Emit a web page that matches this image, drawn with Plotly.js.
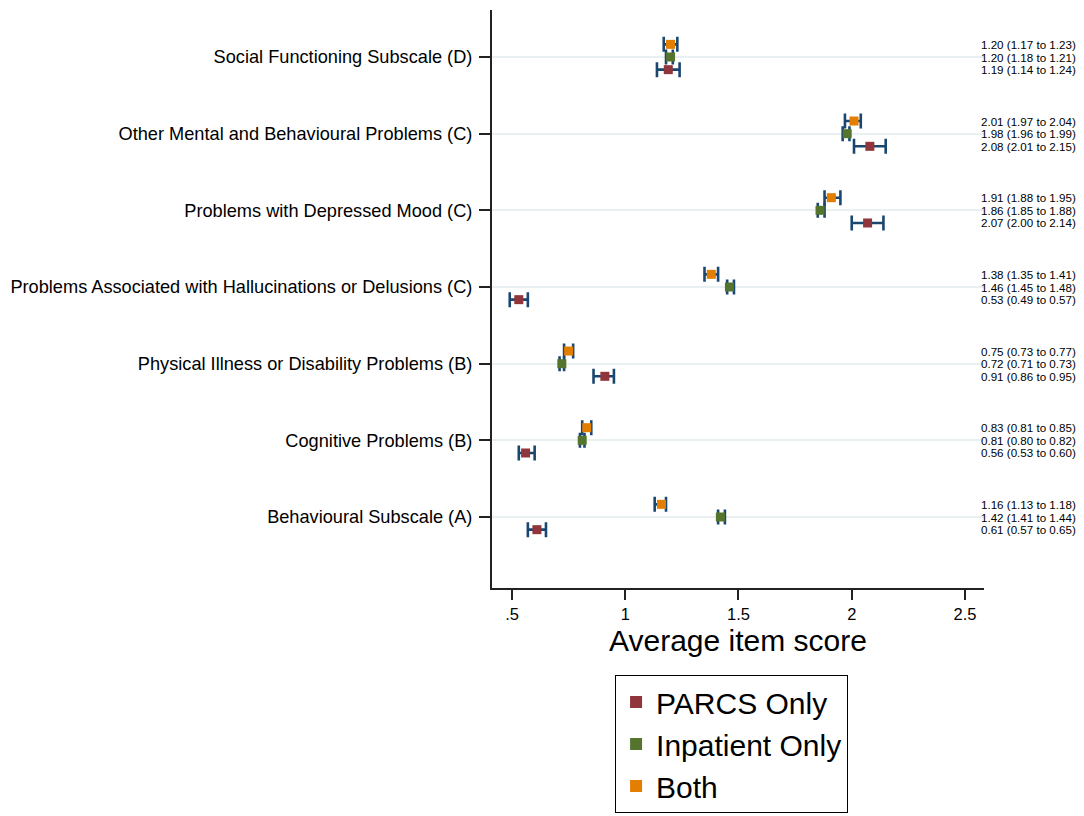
<!DOCTYPE html>
<html>
<head>
<meta charset="utf-8">
<script src="https://cdn.plot.ly/plotly-3.0.1.min.js"></script>
<style>html,body{margin:0;padding:0;background:#fff;}#chart{width:1084px;height:816px;}</style>
</head>
<body>
<div id="chart"></div>
<script>
// Categories, top to bottom
const categories = [
  "Social Functioning Subscale (D)",
  "Other Mental and Behavioural Problems (C)",
  "Problems with Depressed Mood (C)",
  "Problems Associated with Hallucinations or Delusions (C)",
  "Physical Illness or Disability Problems (B)",
  "Cognitive Problems (B)",
  "Behavioural Subscale (A)"
];
const seriesNames = ["PARCS Only", "Inpatient Only", "Both"];

const parcsMean = [1.19, 2.08, 2.07, 0.53, 0.91, 0.56, 0.61];
const parcsLo   = [1.14, 2.01, 2.00, 0.49, 0.86, 0.53, 0.57];
const parcsHi   = [1.24, 2.15, 2.14, 0.57, 0.95, 0.60, 0.65];

const inpatMean = [1.20, 1.98, 1.86, 1.46, 0.72, 0.81, 1.42];
const inpatLo   = [1.18, 1.96, 1.85, 1.45, 0.71, 0.80, 1.41];
const inpatHi   = [1.21, 1.99, 1.88, 1.48, 0.73, 0.82, 1.44];

const bothMean  = [1.20, 2.01, 1.91, 1.38, 0.75, 0.83, 1.16];
const bothLo    = [1.17, 1.97, 1.88, 1.35, 0.73, 0.81, 1.13];
const bothHi    = [1.23, 2.04, 1.95, 1.41, 0.77, 0.85, 1.18];

const xTickVals = [0.5, 1, 1.5, 2, 2.5];
const xTickText = [".5", "1", "1.5", "2", "2.5"];

// styling
const colors = ["#90353b", "#55752f", "#e37e00"];
const offsets = [-0.165, 0, 0.165];
const n = categories.length;
const catY = categories.map((c, i) => n - i);

const series = [
  {mean: parcsMean, lo: parcsLo, hi: parcsHi},
  {mean: inpatMean, lo: inpatLo, hi: inpatHi},
  {mean: bothMean, lo: bothLo, hi: bothHi}
];

const fmt = v => v.toFixed(2);

const traces = series.map((s, k) => ({
  type: "scatter",
  mode: "markers",
  name: seriesNames[k],
  x: s.mean,
  y: catY.map(y => y + offsets[k]),
  marker: {symbol: "square", size: 9, color: colors[k]},
  error_x: {
    type: "data", symmetric: false,
    array: s.hi.map((h, i) => h - s.mean[i]),
    arrayminus: s.mean.map((m, i) => m - s.lo[i]),
    color: "#1a476f", thickness: 2.6, width: 7.5
  },
  hoverinfo: "x+y"
}));

const annotations = [];
series.forEach((s, k) => {
  s.mean.forEach((m, i) => {
    annotations.push({
      xref: "paper", yref: "y",
      x: 1.192, y: catY[i] + offsets[k],
      xanchor: "right", yanchor: "middle",
      text: fmt(m) + " (" + fmt(s.lo[i]) + " to " + fmt(s.hi[i]) + ")",
      showarrow: false,
      font: {size: 11.6, color: "#000", family: "Liberation Sans, Arial, sans-serif"}
    });
  });
});

const layout = {
  width: 1084, height: 816,
  margin: {l: 492, r: 100, t: 10, b: 228, autoexpand: false},
  paper_bgcolor: "#fff", plot_bgcolor: "#fff",
  font: {family: "Liberation Sans, Arial, Helvetica, sans-serif", color: "#000"},
  showlegend: true,
  legend: {
    xref: "container", yref: "container",
    x: 0.5674, y: 0.1728, xanchor: "left", yanchor: "top",
    orientation: "v", traceorder: "normal",
    bordercolor: "#000", borderwidth: 1, bgcolor: "#fff",
    font: {size: 30, color: "#000"},
    itemsizing: "constant"
  },
  xaxis: {
    range: [0.4117, 2.584],
    tickvals: xTickVals, ticktext: xTickText,
    ticks: "outside", ticklen: 10, tickwidth: 1.5, tickcolor: "#222",
    showline: true, linecolor: "#222", linewidth: 2,
    showgrid: false, zeroline: false,
    tickfont: {size: 16.5, color: "#000"},
    title: {text: "Average item score", font: {size: 30, color: "#000"}, standoff: 8}
  },
  yaxis: {
    range: [0.074, 7.613],
    tickvals: catY, ticktext: categories,
    ticks: "outside", ticklen: 11, tickwidth: 1.5, tickcolor: "#222",
    ticklabelstandoff: 3,
    showline: true, linecolor: "#222", linewidth: 2,
    showgrid: true, gridcolor: "#e8f0f1", gridwidth: 2,
    zeroline: false,
    tickfont: {size: 18.2, color: "#000"}
  },
  annotations: annotations
};

Plotly.newPlot("chart", traces, layout, {displayModeBar: false, responsive: false});
</script>
</body>
</html>
